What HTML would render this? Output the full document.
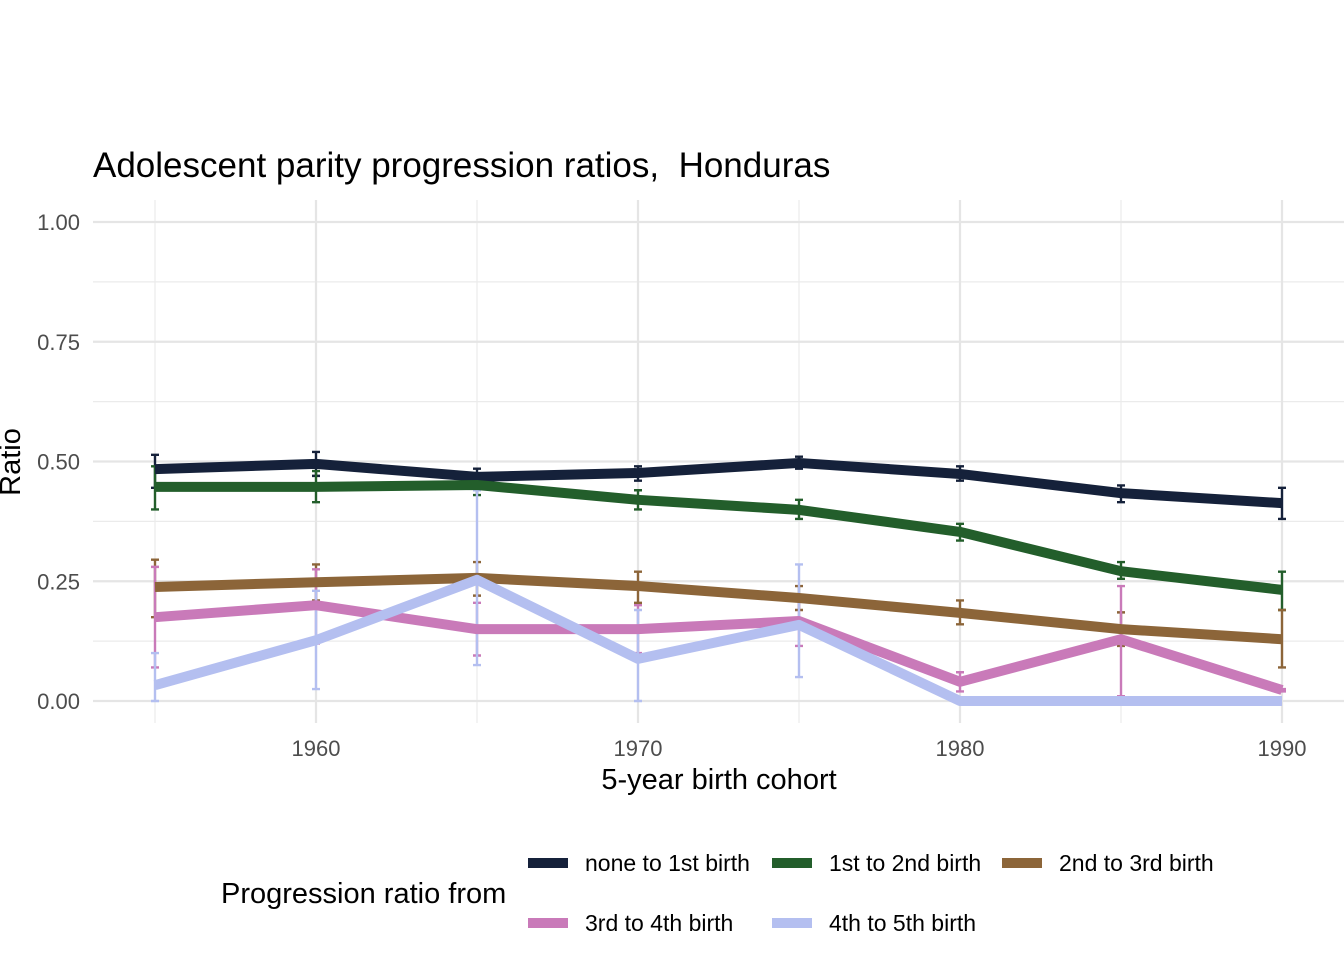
<!DOCTYPE html>
<html><head><meta charset="utf-8"><style>
body{margin:0;background:#fff;}
svg{display:block;font-family:"Liberation Sans",Arial,sans-serif;}
</style></head><body>
<svg id="chart" width="1344" height="960">
<text x="93" y="177" font-size="35" fill="#000" xml:space="preserve">Adolescent parity progression ratios,  Honduras</text>
<g id="grid"></g>
<g id="errs"></g>
<g id="lines"></g>
<g id="axes"></g>
<text x="719" y="789" font-size="29" text-anchor="middle">5-year birth cohort</text>
<text transform="translate(20,462) rotate(-90)" font-size="29" text-anchor="middle">Ratio</text>
<text x="221" y="903" font-size="29">Progression ratio from</text>
<g id="legend"></g>
</svg>
<script>
const years=[1955,1960,1965,1970,1975,1980,1985,1990];
const seriesNames=["none to 1st birth","1st to 2nd birth","2nd to 3rd birth","3rd to 4th birth","4th to 5th birth"];
const colors=["#15213a","#235e2b","#8c6539","#c97ab9","#b4bff0"];
const s0=[0.484,0.495,0.468,0.476,0.497,0.474,0.434,0.413];
const s1=[0.447,0.447,0.451,0.420,0.399,0.353,0.271,0.232];
const s2=[0.238,0.248,0.257,0.240,0.215,0.184,0.150,0.129];
const s3=[0.175,0.200,0.150,0.150,0.167,0.040,0.129,0.023];
const s4=[0.033,0.127,0.253,0.088,0.159,0,0,0];
const lo0=[0.445,0.47,0.45,0.46,0.485,0.46,0.415,0.38], hi0=[0.514,0.52,0.485,0.49,0.51,0.49,0.45,0.445];
const lo1=[0.40,0.415,0.43,0.40,0.38,0.335,0.255,0.19], hi1=[0.49,0.48,0.47,0.44,0.42,0.37,0.29,0.27];
const lo2=[0.175,0.21,0.22,0.205,0.19,0.16,0.115,0.07], hi2=[0.295,0.285,0.29,0.27,0.24,0.21,0.185,0.19];
const lo3=[0.07,0.12,0.095,0.10,0.115,0.02,0.01,0.02], hi3=[0.28,0.275,0.205,0.20,0.22,0.06,0.24,0.025];
const lo4=[0,0.025,0.075,0,0.05,null,null,null], hi4=[0.10,0.23,0.44,0.19,0.285,null,null,null];
const yTicks=[0,0.25,0.5,0.75,1];
const yLabels=["0.00","0.25","0.50","0.75","1.00"];
const xTicks=[1960,1970,1980,1990];
const NS="http://www.w3.org/2000/svg";
const X=v=>316+(v-1960)*32.2;
const Y=v=>701-v*479;
const L=93,R=1344,T=200,B=723;
function mk(p,tag,at){const e=document.createElementNS(NS,tag);for(const k in at)e.setAttribute(k,at[k]);document.getElementById(p).appendChild(e);return e;}
for(let v=0.125;v<1.1;v+=0.25){const e=mk("grid","line",{x1:L,x2:R,y1:Y(v),y2:Y(v),stroke:"#ebebeb","stroke-width":1.2});

}
for(let v=1955;v<=1990;v+=10){const e=mk("grid","line",{x1:X(v),x2:X(v),y1:T,y2:B,stroke:"#ebebeb","stroke-width":1.2});

}
yTicks.forEach((v,i)=>{const e=mk("grid","line",{x1:L,x2:R,y1:Y(v),y2:Y(v),stroke:"#e5e5e5","stroke-width":2.2});


const t=mk("axes","text",{x:80,y:Y(v)+8,"font-size":22,fill:"#4d4d4d","text-anchor":"end"});t.textContent=yLabels[i];

});
xTicks.forEach(v=>{const e=mk("grid","line",{x1:X(v),x2:X(v),y1:T,y2:B,stroke:"#e5e5e5","stroke-width":2.2});


const t=mk("axes","text",{x:X(v),y:756,"font-size":22,fill:"#4d4d4d","text-anchor":"middle"});t.textContent=v;

});
const S=[s0,s1,s2,s3,s4],LO=[lo0,lo1,lo2,lo3,lo4],HI=[hi0,hi1,hi2,hi3,hi4];
S.forEach((s,k)=>{
 years.forEach((yr,i)=>{if(LO[k][i]==null)return;const x=X(yr),a=Y(LO[k][i]),b=Y(HI[k][i]);
  const g=mk("errs","path",{d:`M${x},${a}V${b}M${x-4},${a}H${x+4}M${x-4},${b}H${x+4}`,stroke:colors[k],"stroke-width":2.4,fill:"none"});
  
  });
 const p=mk("lines","polyline",{points:years.map((yr,i)=>X(yr)+","+Y(s[i])).join(" "),stroke:colors[k],"stroke-width":10,fill:"none","stroke-linejoin":"round"});
 
 
});
const lx=[528,772,1002,528,772],ly=[863,863,863,923,923];
seriesNames.forEach((n,k)=>{
 const g=mk("legend","g",{});
 
 
 const r=document.createElementNS(NS,"line");r.setAttribute("x1",lx[k]);r.setAttribute("x2",lx[k]+40);r.setAttribute("y1",ly[k]);r.setAttribute("y2",ly[k]);r.setAttribute("stroke",colors[k]);r.setAttribute("stroke-width",10);g.appendChild(r);
 const t=document.createElementNS(NS,"text");t.setAttribute("x",lx[k]+57);t.setAttribute("y",ly[k]+8);t.setAttribute("font-size",23);t.textContent=n;g.appendChild(t);
});
</script>
</body></html>
